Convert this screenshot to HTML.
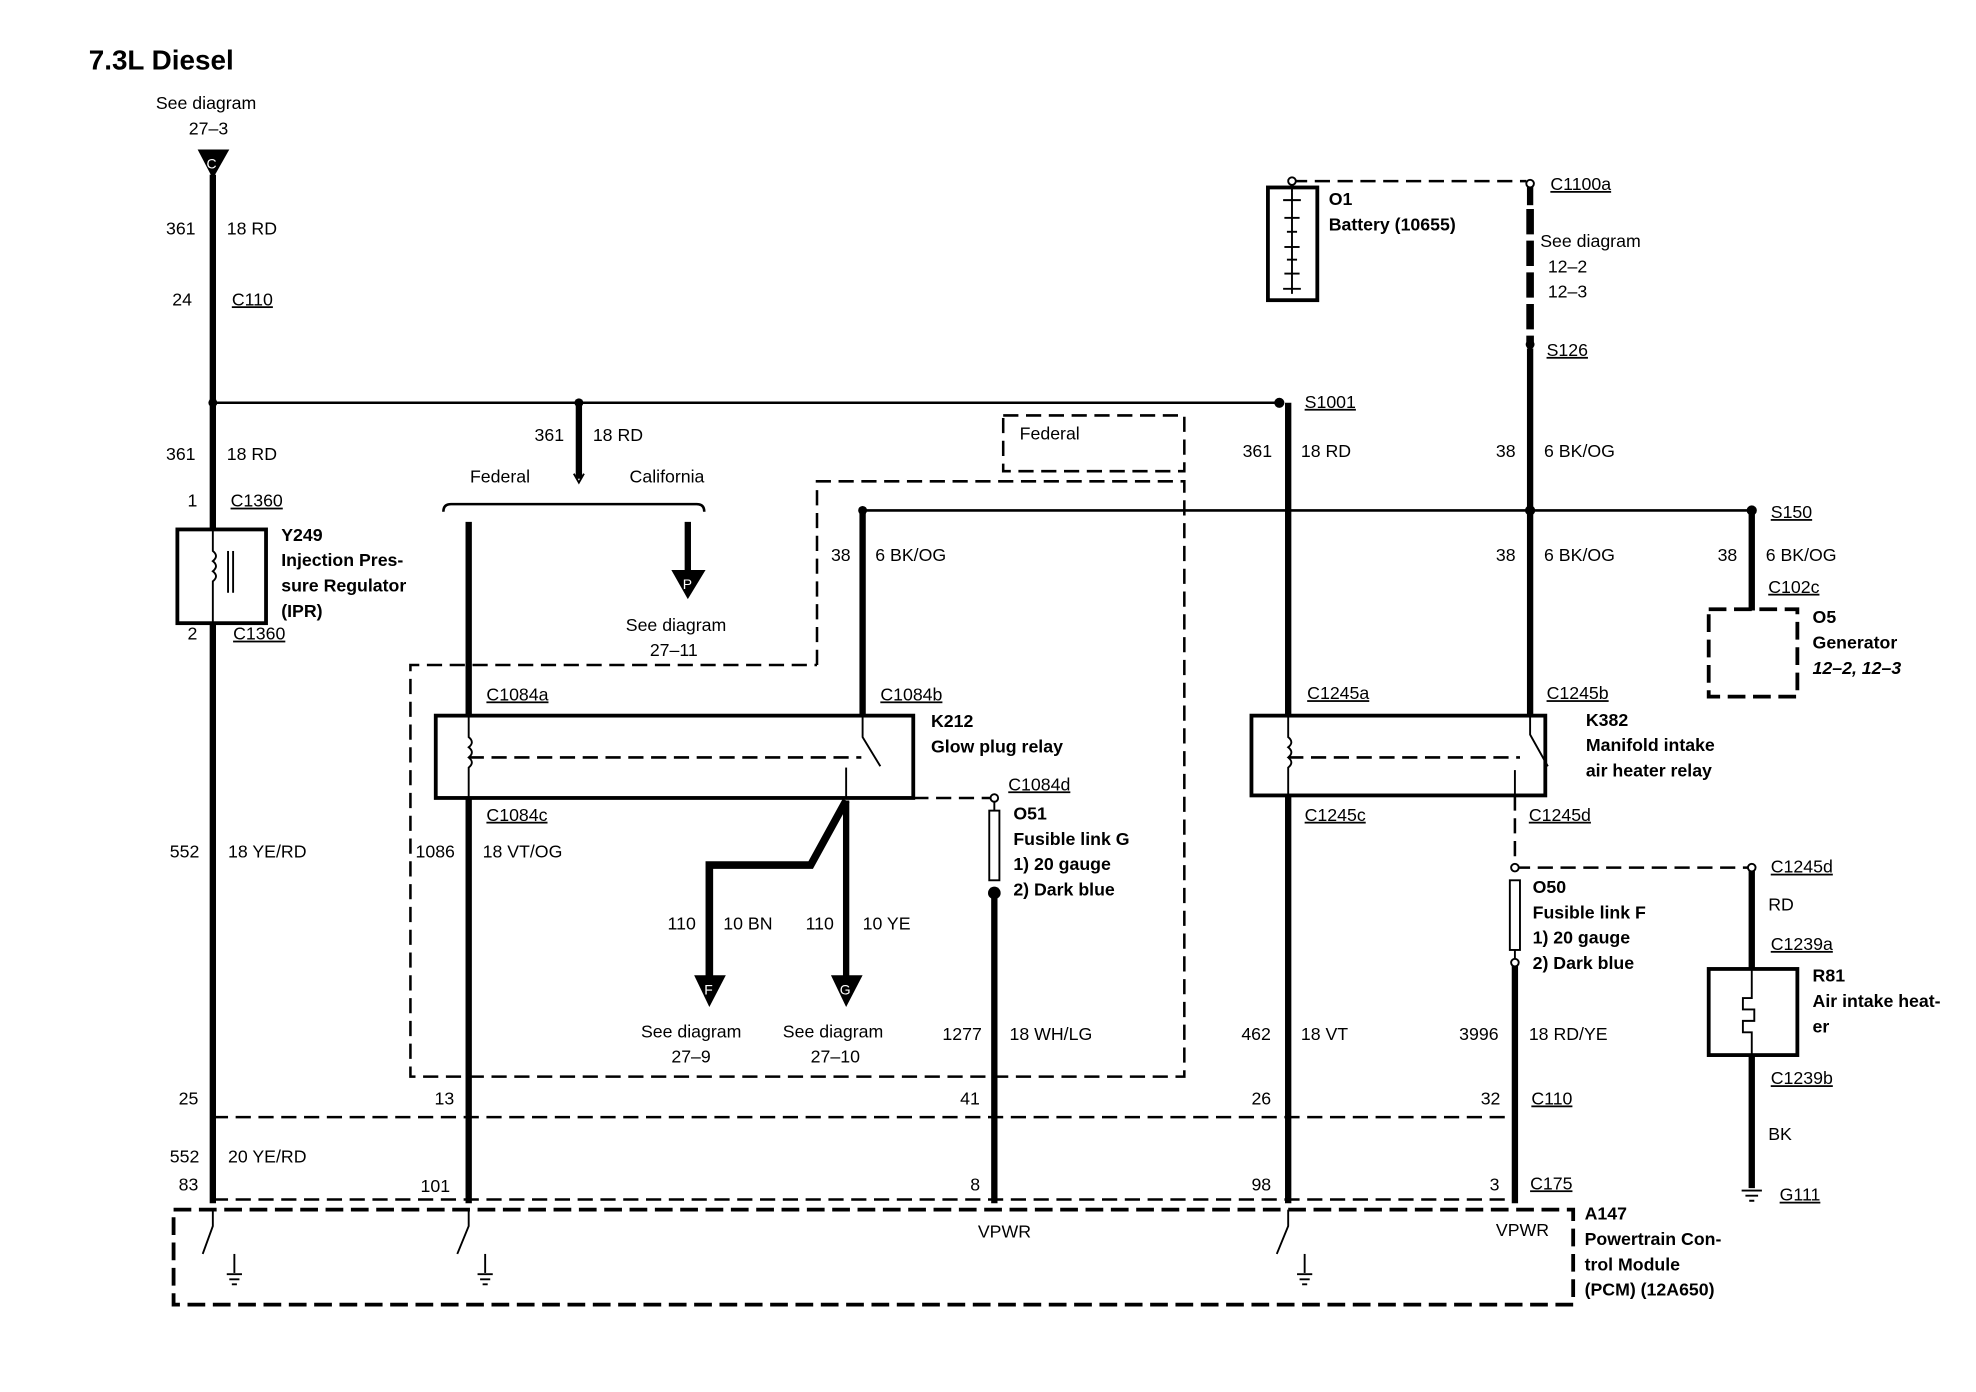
<!DOCTYPE html>
<html><head><meta charset="utf-8"><style>
html,body{margin:0;padding:0;background:#fff;width:1976px;height:1392px;overflow:hidden}
svg{display:block}
text{font-family:"Liberation Sans",Arial,sans-serif;font-size:14px;fill:#000}
.b{font-weight:bold}
.u{text-decoration:underline}
</style></head><body>
<svg width="1976" height="1392" viewBox="0 0 1560 1099" xmlns="http://www.w3.org/2000/svg">
<g fill="none" stroke="#000">
<!-- thick wires -->
<g stroke-width="5">
<line x1="168" y1="138" x2="168" y2="418"/>
<line x1="168" y1="492" x2="168" y2="950"/>
<line x1="370" y1="412" x2="370" y2="565"/>
<line x1="370" y1="630" x2="370" y2="950"/>
<line x1="457" y1="318" x2="457" y2="378"/>
<line x1="543" y1="412" x2="543" y2="452"/>
<line x1="681" y1="403" x2="681" y2="565"/>
<line x1="785" y1="705" x2="785" y2="950"/>
<line x1="1017" y1="318" x2="1017" y2="565"/>
<line x1="1017" y1="628" x2="1017" y2="950"/>
<line x1="1208" y1="145" x2="1208" y2="162"/>
<line x1="1208" y1="275" x2="1208" y2="565"/>
<line x1="1196" y1="760" x2="1196" y2="950"/>
<line x1="1383" y1="403" x2="1383" y2="482"/>
<line x1="1383" y1="685" x2="1383" y2="765"/>
<line x1="1383" y1="833" x2="1383" y2="938"/>
</g>
<g stroke-width="6" stroke-dasharray="20,5">
<line x1="1208" y1="165" x2="1208" y2="272"/>
</g>
<!-- BN / YE -->
<polyline points="668,632 640,683 560,683 560,772" stroke-width="6"/>
<line x1="668" y1="632" x2="668" y2="772" stroke-width="5"/>
<!-- thin lines -->
<g stroke-width="2">
<line x1="168" y1="318" x2="1010" y2="318"/>
<line x1="681" y1="403" x2="1383" y2="403"/>
<path d="M350,404 Q350,398 356,398 L550,398 Q556,398 556,404"/>
</g>
<!-- dashed -->
<g stroke-width="2" stroke-dasharray="12,6">
<rect x="792" y="328" width="143" height="44"/>
<polyline points="645,525 645,380 935,380 935,850 324,850 324,525 645,525"/>
<line x1="1020" y1="143" x2="1205" y2="143"/>
<line x1="721" y1="630" x2="783" y2="630"/>
<line x1="1196" y1="628" x2="1196" y2="685"/>
<line x1="1196" y1="685" x2="1383" y2="685"/>
<line x1="168" y1="882" x2="1196" y2="882"/>
<line x1="168" y1="947" x2="1196" y2="947"/>
<line x1="370" y1="598" x2="680" y2="598"/>
<line x1="1017" y1="598" x2="1200" y2="598"/>
</g>
<g stroke-width="3" stroke-dasharray="14,6">
<rect x="137" y="955" width="1105" height="75"/>
<rect x="1349" y="481" width="70" height="69"/>
</g>
<!-- boxes -->
<g stroke-width="3">
<rect x="140" y="418" width="70" height="74"/>
<rect x="344" y="565" width="377" height="65"/>
<rect x="988" y="565" width="232" height="63"/>
<rect x="1001" y="148" width="39" height="89"/>
<rect x="1349" y="765" width="70" height="68"/>
</g>
<!-- coils -->
<g stroke-width="1.5">
<path d="M168,418 L168,435 q5,4 0,8 q5,4 0,8 q5,4 0,8 L168,492"/>
<line x1="180" y1="435" x2="180" y2="468"/><line x1="184" y1="435" x2="184" y2="468"/>
<path d="M370,565 L370,582 q5,4 0,8 q5,4 0,8 q5,4 0,8 L370,630"/>
<path d="M1017,565 L1017,582 q5,4 0,8 q5,4 0,8 q5,4 0,8 L1017,628"/>
<polyline points="681,565 681,582 695,605"/>
<line x1="668" y1="606" x2="668" y2="630"/>
<polyline points="1208,565 1208,580 1222,605"/>
<line x1="1196" y1="608" x2="1196" y2="628"/>
<rect x="781" y="640" width="8" height="55"/>
<line x1="785" y1="630" x2="785" y2="640"/>
<rect x="1192" y="695" width="8" height="55"/>
<line x1="1196" y1="750" x2="1196" y2="760"/>
<path d="M1383,765 L1383,788 L1376,788 L1376,797 L1385,797 L1385,806 L1376,806 L1376,815 L1383,815 L1383,833"/>
<line x1="1020" y1="143" x2="1020" y2="152"/>
<line x1="1020" y1="152" x2="1020" y2="232"/>
<line x1="1013" y1="158" x2="1027" y2="158"/>
<line x1="1014" y1="172" x2="1026" y2="172"/><line x1="1016" y1="183" x2="1024" y2="183"/>
<line x1="1014" y1="195" x2="1026" y2="195"/><line x1="1016" y1="205" x2="1024" y2="205"/>
<line x1="1014" y1="216" x2="1026" y2="216"/><line x1="1013" y1="228" x2="1027" y2="228"/>
<!-- PCM switches -->
<polyline points="168,955 168,968 160,990"/>
<line x1="185" y1="990" x2="185" y2="1005"/>
<polyline points="370,955 370,968 361,990"/>
<line x1="383" y1="990" x2="383" y2="1005"/>
<polyline points="1017,955 1017,968 1008,990"/>
<line x1="1030" y1="990" x2="1030" y2="1005"/>
</g>
<g stroke-width="1.5">
<path d="M179,1006h12M181,1010h8M183,1014h4"/>
<path d="M377,1006h12M379,1010h8M381,1014h4"/>
<path d="M1024,1006h12M1026,1010h8M1028,1014h4"/>
<path d="M1375,940h16M1378,944h10M1381,948h4"/>
<path d="M453,374 L457,381 L461,374"/>
</g>
</g>
<!-- filled items -->
<g fill="#000">
<polygon points="156,118 181,118 168,141"/>
<polygon points="530,450 557,450 543,473"/>
<polygon points="548,770 573,770 560,795"/>
<polygon points="656,770 681,770 668,795"/>
<circle cx="168" cy="318" r="3.5"/><circle cx="457" cy="318" r="3.5"/><circle cx="1010" cy="318" r="4"/>
<circle cx="681" cy="403" r="3.5"/><circle cx="1208" cy="403" r="4"/><circle cx="1383" cy="403" r="4"/>
<circle cx="1208" cy="272" r="3.5"/><circle cx="785" cy="705" r="5"/>
</g>
<g fill="#fff" stroke="#000" stroke-width="1.5">
<circle cx="785" cy="630" r="3"/><circle cx="1208" cy="145" r="3"/><circle cx="1020" cy="143" r="3"/>
<circle cx="1196" cy="685" r="3"/><circle cx="1196" cy="760" r="3"/><circle cx="1383" cy="685" r="3"/>
</g>
<text x="163" y="133" fill="#fff" style="fill:#fff;font-size:11px">C</text>
<text x="539" y="465" style="fill:#fff;font-size:11px">P</text>
<text x="556" y="785" style="fill:#fff;font-size:11px">F</text>
<text x="663" y="785" style="fill:#fff;font-size:11px">G</text>

<text x="70" y="55" class="b" style="font-size:22px">7.3L Diesel</text>
<text x="123" y="86">See diagram</text><text x="149" y="106">27–3</text>
<text x="131" y="185">361</text><text x="179" y="185">18 RD</text>
<text x="136" y="241">24</text><text x="183" y="241" class="u">C110</text>
<text x="131" y="363">361</text><text x="179" y="363">18 RD</text>
<text x="148" y="400">1</text><text x="182" y="400" class="u">C1360</text>
<text x="222" y="427" class="b">Y249</text><text x="222" y="447" class="b">Injection Pres-</text>
<text x="222" y="467" class="b">sure Regulator</text><text x="222" y="487" class="b">(IPR)</text>
<text x="148" y="505">2</text><text x="184" y="505" class="u">C1360</text>
<text x="134" y="677">552</text><text x="180" y="677">18 YE/RD</text>
<text x="141" y="872">25</text><text x="134" y="918">552</text><text x="180" y="918">20 YE/RD</text>
<text x="141" y="940">83</text>
<text x="422" y="348">361</text><text x="468" y="348">18 RD</text>
<text x="371" y="381">Federal</text><text x="497" y="381">California</text>
<text x="494" y="498">See diagram</text><text x="513" y="518">27–11</text>
<text x="805" y="347">Federal</text>
<text x="656" y="443">38</text><text x="691" y="443">6 BK/OG</text>
<text x="384" y="553" class="u">C1084a</text><text x="695" y="553" class="u">C1084b</text>
<text x="735" y="574" class="b">K212</text><text x="735" y="594" class="b">Glow plug relay</text>
<text x="384" y="648" class="u">C1084c</text>
<text x="796" y="624" class="u">C1084d</text>
<text x="800" y="647" class="b">O51</text><text x="800" y="667" class="b">Fusible link G</text>
<text x="800" y="687" class="b">1)   20 gauge</text><text x="800" y="707" class="b">2)   Dark blue</text>
<text x="328" y="677">1086</text><text x="381" y="677">18 VT/OG</text>
<text x="527" y="734">110</text><text x="571" y="734">10 BN</text>
<text x="636" y="734">110</text><text x="681" y="734">10 YE</text>
<text x="506" y="819">See diagram</text><text x="530" y="839">27–9</text>
<text x="618" y="819">See diagram</text><text x="640" y="839">27–10</text>
<text x="744" y="821">1277</text><text x="797" y="821">18 WH/LG</text>
<text x="343" y="872">13</text><text x="758" y="872">41</text>
<text x="332" y="941">101</text><text x="766" y="940">8</text>
<text x="772" y="977">VPWR</text>
<text x="1049" y="162" class="b">O1</text><text x="1049" y="182" class="b">Battery (10655)</text>
<text x="1224" y="150" class="u">C1100a</text>
<text x="1216" y="195">See diagram</text><text x="1222" y="215">12–2</text><text x="1222" y="235">12–3</text>
<text x="1221" y="281" class="u">S126</text>
<text x="1030" y="322" class="u">S1001</text>
<text x="981" y="361">361</text><text x="1027" y="361">18 RD</text>
<text x="1181" y="361">38</text><text x="1219" y="361">6 BK/OG</text>
<text x="1398" y="409" class="u">S150</text>
<text x="1181" y="443">38</text><text x="1219" y="443">6 BK/OG</text>
<text x="1356" y="443">38</text><text x="1394" y="443">6 BK/OG</text>
<text x="1396" y="468" class="u">C102c</text>
<text x="1431" y="492" class="b">O5</text><text x="1431" y="512" class="b">Generator</text>
<text x="1431" y="532" class="b" font-style="italic">12–2, 12–3</text>
<text x="1032" y="552" class="u">C1245a</text><text x="1221" y="552" class="u">C1245b</text>
<text x="1252" y="573" class="b">K382</text><text x="1252" y="593" class="b">Manifold intake</text>
<text x="1252" y="613" class="b">air heater relay</text>
<text x="1030" y="648" class="u">C1245c</text><text x="1207" y="648" class="u">C1245d</text>
<text x="1398" y="689" class="u">C1245d</text><text x="1396" y="719">RD</text>
<text x="1398" y="750" class="u">C1239a</text>
<text x="1431" y="775" class="b">R81</text><text x="1431" y="795" class="b">Air intake heat-</text>
<text x="1431" y="815" class="b">er</text>
<text x="1398" y="856" class="u">C1239b</text><text x="1396" y="900">BK</text>
<text x="1405" y="948" class="u">G111</text>
<text x="1210" y="705" class="b">O50</text><text x="1210" y="725" class="b">Fusible link F</text>
<text x="1210" y="745" class="b">1)   20 gauge</text><text x="1210" y="765" class="b">2)   Dark blue</text>
<text x="980" y="821">462</text><text x="1027" y="821">18 VT</text>
<text x="1152" y="821">3996</text><text x="1207" y="821">18 RD/YE</text>
<text x="988" y="872">26</text><text x="1169" y="872">32</text><text x="1209" y="872" class="u">C110</text>
<text x="988" y="940">98</text><text x="1176" y="940">3</text><text x="1208" y="939" class="u">C175</text>
<text x="1181" y="976">VPWR</text>
<text x="1251" y="963" class="b">A147</text><text x="1251" y="983" class="b">Powertrain Con-</text>
<text x="1251" y="1003" class="b">trol Module</text><text x="1251" y="1023" class="b">(PCM) (12A650)</text>
</svg>
</body></html>
